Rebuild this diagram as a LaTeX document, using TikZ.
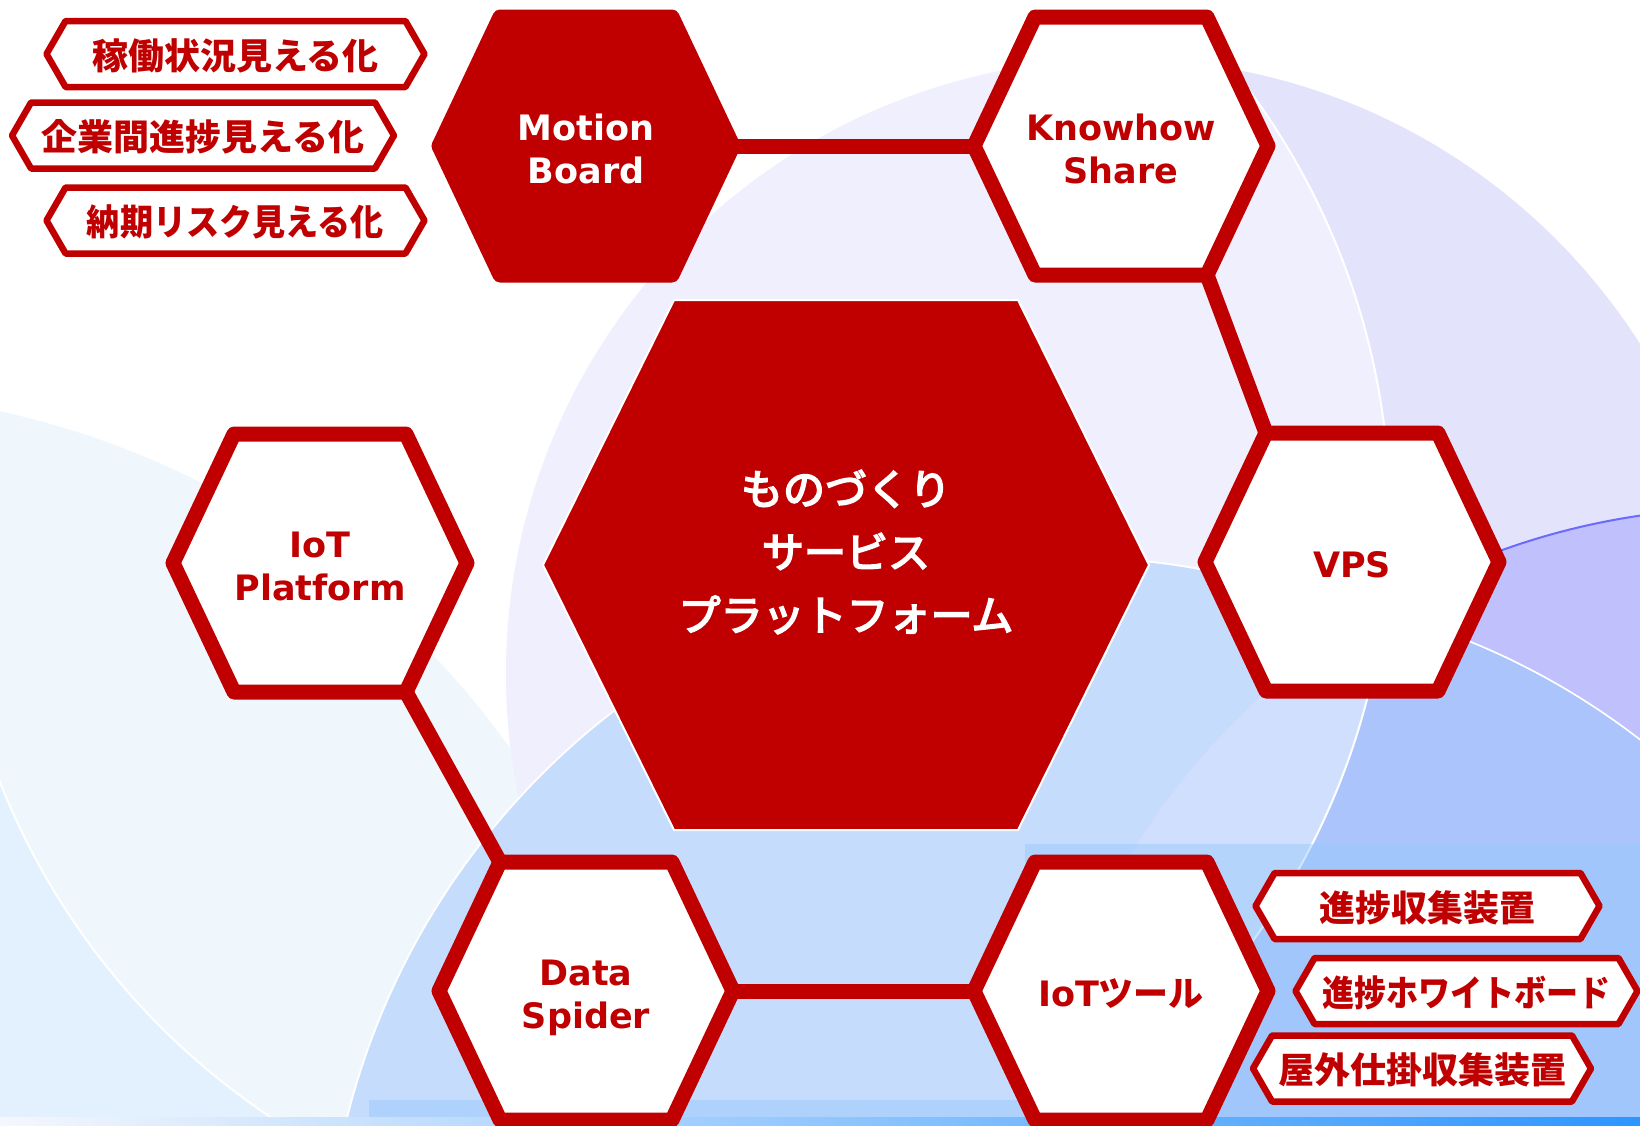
\documentclass[tikz,border=0pt]{standalone}
\usepackage{fontspec}
\newfontfamily\jp{Noto Sans CJK JP}
\newfontfamily\jpcore[FakeBold=4]{Noto Sans CJK JP}
\newfontfamily\lat{DejaVu Sans}
\usetikzlibrary{calc}
\definecolor{rd}{RGB}{192,0,0}
\definecolor{bgA}{RGB}{226,241,253}
\definecolor{bgL}{RGB}{227,227,252}
\definecolor{bgP}{RGB}{192,192,252}
\definecolor{bgPline}{RGB}{106,106,255}
\definecolor{bgN}{RGB}{150,193,250}
\definecolor{bgNP}{RGB}{171,197,252}
\definecolor{bgNPline}{RGB}{160,188,252}
\definecolor{bgRect}{RGB}{150,200,252}
\definecolor{stripL}{RGB}{245,247,253}
\definecolor{stripM}{RGB}{205,222,252}
\definecolor{stripR}{RGB}{45,150,255}
% hexagon: name, cx, cy, half width W, half height H, corner offset c
\newcommand\defhex[6]{%
  \coordinate (#1) at (#2,#3);
  \coordinate (#1-e) at ({#2+#4},#3);
  \coordinate (#1-w) at ({#2-#4},#3);
  \coordinate (#1-ne) at ({#2+#6},{#3-#5});
  \coordinate (#1-nw) at ({#2-#6},{#3-#5});
  \coordinate (#1-se) at ({#2+#6},{#3+#5});
  \coordinate (#1-sw) at ({#2-#6},{#3+#5});
}
\newcommand\hexpath[1]{(#1-e) -- (#1-ne) -- (#1-nw) -- (#1-w) -- (#1-sw) -- (#1-se) -- cycle}
% tag: name, cx, cy, half length L, half height H (pointer 120 deg)
\newcommand\deftag[5]{\defhex{#1}{#2}{#3}{#4}{#5}{(#4-0.57735*#5)}}
\begin{document}
\begin{tikzpicture}[x=1pt,y=-1pt,
  hexw/.style={fill=white,draw=rd,line width=15pt,line join=round},
  hexr/.style={fill=rd,draw=rd,line width=15pt,line join=round},
  link/.style={draw=rd,line width=15pt},
  tagbox/.style={fill=white,draw=rd,line width=6.5pt,line join=round},
  lbl/.style={font=\lat\bfseries\fontsize{35}{43}\selectfont,align=center,text=rd,inner sep=0pt,yshift=-3pt},
  taglbl/.style={font=\jp\bfseries\fontsize{36}{40}\selectfont,text=rd,inner sep=0pt,yshift=-1.5pt},
  corelbl/.style={font=\jpcore\fontsize{42}{63}\selectfont,align=center,text=white,inner sep=0pt},
]
\useasboundingbox (0,0) rectangle (1640,1125);
\clip (0,0) rectangle (1640,1125);
\fill[white] (0,0) rectangle (1640,1125);
% ---------- background ----------
\fill[bgA] (-181,1240) circle[radius=848pt];
\fill[bgL] (1121,674) circle[radius=615pt];
\fill[bgP] (1745,1227) circle[radius=719pt];
\draw[bgPline,line width=2pt] (1745,1227) circle[radius=719pt];
\draw[white,line width=4pt] (1066,1298) circle[radius=740pt];
\draw[white,line width=4pt] (1195,1316) circle[radius=727pt];
\fill[bgN] (1066,1298) circle[radius=740pt] (1195,1316) circle[radius=727pt];
\begin{scope}
  \clip (1745,1227) circle[radius=719pt];
  \fill[bgNP] (1066,1298) circle[radius=740pt] (1195,1316) circle[radius=727pt];
\end{scope}
\begin{scope}
  \clip (1066,1298) circle[radius=740pt] (1195,1316) circle[radius=727pt];
  \draw[bgNPline,line width=1.2pt] (1745,1227) circle[radius=719pt];
\end{scope}
\fill[white,fill opacity=0.45] (670,518) circle[radius=720pt];
\draw[white,line width=2pt] (670,518) circle[radius=720pt];
\fill[bgRect,fill opacity=0.45] (1025,844) rectangle (1640,1117);
\fill[bgRect,fill opacity=0.45] (369,1100) rectangle (1025,1117);
\shade[left color=stripL,middle color=stripM,right color=stripR] (0,1117) rectangle (1640,1125);
% ---------- hexagon geometry ----------
\defhex{mb}{586}{146}{147}{129}{86}
\defhex{ks}{1121}{146}{147}{129}{86}
\defhex{vps}{1352}{562}{147}{129}{86}
\defhex{iotp}{320}{563}{147}{129}{86}
\defhex{ds}{586}{991}{147}{129}{86}
\defhex{iott}{1121}{991}{147}{129}{86}
\defhex{core}{846}{565}{303}{265}{172}
% ---------- connectors ----------
\draw[link] (mb-e) -- (ks-w);
\draw[link] (ks-se) -- (vps-nw);
\draw[link] (iotp-se) -- (ds-nw);
\draw[link] (ds-e) -- (iott-w);
% ---------- hexagons ----------
\path[fill=rd,draw=white,line width=2pt] \hexpath{core};
\path[hexr] \hexpath{mb};
\path[hexw] \hexpath{ks};
\path[hexw] \hexpath{vps};
\path[hexw] \hexpath{iotp};
\path[hexw] \hexpath{ds};
\path[hexw] \hexpath{iott};
% ---------- hexagon labels ----------
\node[corelbl] (coretxt) at (846,552) {ものづくり\\サービス\\プラットフォーム};
\node[lbl,text=white] (mbtxt) at (mb) {Motion\\Board};
\node[lbl] (kstxt) at (ks) {Knowhow\\Share};
\node[lbl] (vpstxt) at (vps) {VPS};
\node[lbl] (iotptxt) at (iotp) {IoT\\Platform};
\node[lbl,text depth=0pt] (dstxt) at (ds) {Data\\Spider};
\node[lbl] (iotttxt) at (iott) {IoT{\jp\bfseries ツール}};
% ---------- tags ----------
\deftag{ta}{235.5}{54}{189}{33}
\deftag{tb}{203}{135.5}{191}{33}
\deftag{tc}{235.5}{220.5}{189}{33}
\deftag{td}{1427.5}{906}{172}{33}
\deftag{te}{1466.5}{991}{171}{33}
\deftag{tf}{1422}{1068.5}{169}{33}
\path[tagbox] \hexpath{ta};
\path[tagbox] \hexpath{tb};
\path[tagbox] \hexpath{tc};
\path[tagbox] \hexpath{td};
\path[tagbox] \hexpath{te};
\path[tagbox] \hexpath{tf};
\node[taglbl] (tatxt) at (ta) {稼働状況見える化};
\node[taglbl] (tbtxt) at (tb) {企業間進捗見える化};
\node[taglbl] (tctxt) at (tc) {\scalebox{0.92}[1]{納期リスク見える化}};
\node[taglbl] (tdtxt) at (td) {進捗収集装置};
\node[taglbl] (tetxt) at (te) {\scalebox{0.89}[1]{進捗ホワイトボード}};
\node[taglbl] (tftxt) at (tf) {屋外仕掛収集装置};
\end{tikzpicture}
\end{document}
